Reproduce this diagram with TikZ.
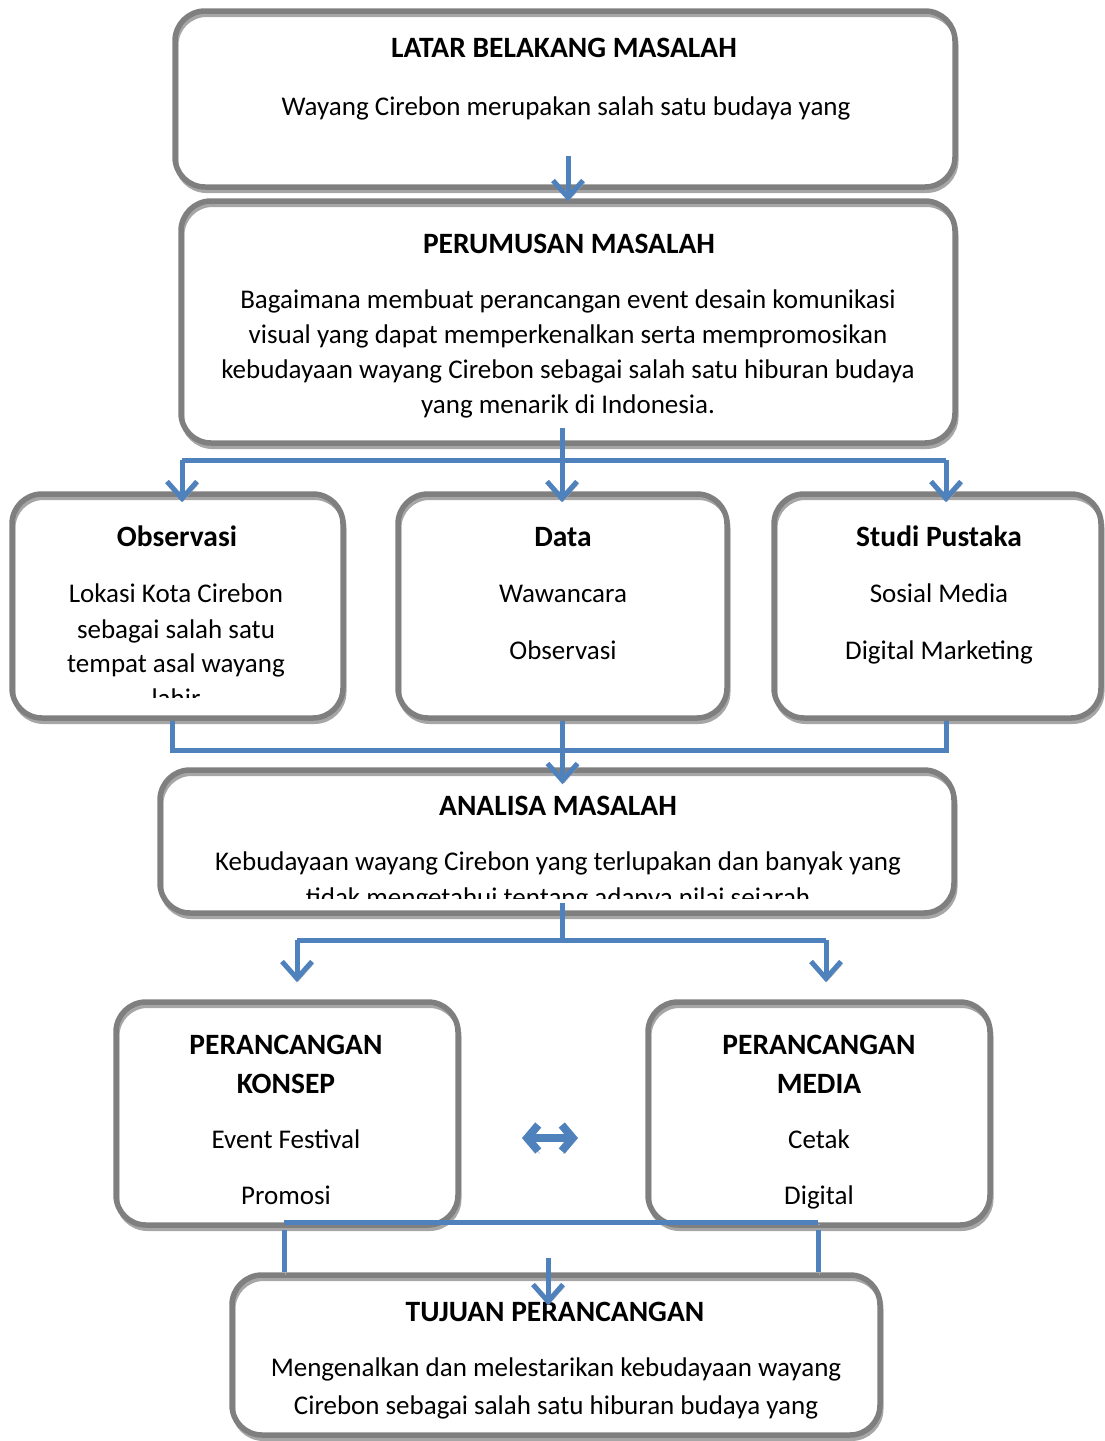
\documentclass[tikz,border=0pt]{standalone}
\usepackage{fontspec}
\setmainfont{Carlito}
\usepackage{tikz}
\usetikzlibrary{arrows.meta}
\definecolor{biru}{HTML}{4F81BD}
\definecolor{abu}{HTML}{7F7F7F}
\definecolor{abumuda}{HTML}{A6A6A6}
\tikzset{
  kotak/.style={draw=abu, line width=5.5pt, rounded corners=30pt, inner sep=0pt,
    preaction={draw=abumuda, line width=4pt, transform canvas={shift={(1.5pt,-4pt)}}}},
  teks/.style={font=\fontsize{27}{32}\selectfont, anchor=base, inner sep=0pt},
  judul/.style={teks, font=\fontsize{29.5}{34}\selectfont\bfseries},
  garis/.style={draw=biru, line width=5pt,
    preaction={draw=abumuda, transform canvas={shift={(1.5pt,-2.5pt)}}}},
  panah/.style={garis, -{Straight Barb[length=17pt,width=30pt]}},
}

\begin{document}
\begin{tikzpicture}[x=1pt, y=-1pt]
        \useasboundingbox (0,0) rectangle (1105,1441);
        % kotak
        \node[kotak, minimum width=780pt, minimum height=176pt] (latar) at (565,99) {};
        \node[kotak, minimum width=774pt, minimum height=242pt] (rumus) at (568,322) {};
        \node[kotak, minimum width=331pt, minimum height=224pt] (obs) at (177.5,606) {};
        \node[kotak, minimum width=329pt, minimum height=224pt] (data) at (562.5,606) {};
        \node[kotak, minimum width=327pt, minimum height=224pt] (studi) at (937.5,606) {};
        \node[kotak, minimum width=794pt, minimum height=143pt] (analisa) at (557,841.5) {};
        \node[kotak, minimum width=342pt, minimum height=223pt] (konsep) at (287,1113.5) {};
        \node[kotak, minimum width=342pt, minimum height=223pt] (media) at (819,1113.5) {};
        \node[kotak, minimum width=648pt, minimum height=160pt] (tujuan) at (556,1355) {};
        % teks
        \node[judul] (latarJ) at (564,57) {LATAR BELAKANG MASALAH};
        \node[teks] (latar1) at (566,115) {Wayang Cirebon merupakan salah satu budaya yang};
        \node[judul] (rumusJ) at (569,253) {PERUMUSAN MASALAH};
        \node[teks] (rumus1) at (568,308) {Bagaimana membuat perancangan event desain komunikasi};
        \node[teks] (rumus2) at (568,343) {visual yang dapat memperkenalkan serta mempromosikan};
        \node[teks] (rumus3) at (568,378) {kebudayaan wayang Cirebon sebagai salah satu hiburan budaya};
        \node[teks] (rumus4) at (568,413) {yang menarik di Indonesia.};
        \node[judul] (obsJ) at (177,546) {Observasi};
        \node[teks] (obs1) at (176,602) {Lokasi Kota Cirebon};
        \node[teks] (obs2) at (176,638) {sebagai salah satu};
        \node[teks] (obs3) at (176,672) {tempat asal wayang};
        \begin{scope}
          \clip (0,0) rectangle (1105,697);
          \node[teks] (obs4) at (176,707) {lahir};
        \end{scope}
        \node[judul] (dataJ) at (563,546) {Data};
        \node[teks] (data1) at (563,602) {Wawancara};
        \node[teks] (data2) at (563,659) {Observasi};
        \node[judul] (studiJ) at (939,546) {Studi Pustaka};
        \node[teks] (studi1) at (939,602) {Sosial Media};
        \node[teks] (studi2) at (939,659) {Digital Marketing};
        \node[judul] (analisaJ) at (558,815) {ANALISA MASALAH};
        \node[teks] (analisa1) at (558,870) {Kebudayaan wayang Cirebon yang terlupakan dan banyak yang};
        \begin{scope}
          \clip (0,0) rectangle (1105,898);
          \node[teks] (analisa2) at (558,906) {tidak mengetahui tentang adanya nilai sejarah};
        \end{scope}
        \node[judul] (konsepJ1) at (286,1054) {PERANCANGAN};
        \node[judul] (konsepJ2) at (286,1093) {KONSEP};
        \node[teks] (konsep1) at (286,1148) {Event Festival};
        \node[teks] (konsep2) at (286,1204) {Promosi};
        \node[judul] (mediaJ1) at (819,1054) {PERANCANGAN};
        \node[judul] (mediaJ2) at (819,1093) {MEDIA};
        \node[teks] (media1) at (819,1148) {Cetak};
        \node[teks] (media2) at (819,1204) {Digital};
        \node[judul] (tujuanJ) at (555,1321) {TUJUAN PERANCANGAN};
        \node[teks] (tujuan1) at (556,1376) {Mengenalkan dan melestarikan kebudayaan wayang};
        \node[teks] (tujuan2) at (556,1414) {Cirebon sebagai salah satu hiburan budaya yang};
        % panah
        \coordinate (p1) at (568,156);
        \draw[panah] (p1) -- ([yshift=-3pt]p1 |- rumus.north);
        \coordinate (p2) at (562,428);
        \coordinate (kiri2) at (182,460);
        \coordinate (kanan2) at (946,460);
        \draw[garis] (kiri2) -- (kanan2);
        \draw[panah] (p2) -- ([yshift=-11pt]p2 |- data.north);
        \draw[panah] (kiri2) -- ([yshift=-11pt]kiri2 |- obs.north);
        \draw[panah] (kanan2) -- ([yshift=-11pt]kanan2 |- studi.north);
        \coordinate (kiri3) at (172,750);
        \coordinate (kanan3) at (946,750);
        \draw[garis] (kiri3 |- obs.south) -- (kiri3) -- (kanan3) -- (kanan3 |- studi.south);
        \draw[panah] (data.south) -- ([yshift=-17pt]data.south |- analisa.north);
        \coordinate (p4) at (562,903);
        \coordinate (kiri4) at (297,940);
        \coordinate (kanan4) at (826,940);
        \draw[garis] (p4) -- (p4 |- kiri4);
        \draw[garis] (kiri4) -- (kanan4);
        \draw[panah] (kiri4) -- ([yshift=17pt]kiri4 |- konsep.north);
        \draw[panah] (kanan4) -- ([yshift=17pt]kanan4 |- media.north);
        \coordinate (dk) at (522,1138);
        \coordinate (dm) at (578,1138);
        \draw[garis, line width=8pt, {Straight Barb[length=11pt,width=26pt]}-{Straight Barb[length=11pt,width=26pt]}] (dk) -- (dm);
        \coordinate (kiri6) at (284,1222);
        \coordinate (kanan6) at (818,1222);
        \draw[garis] (kiri6) -- (kanan6);
        \draw[garis] ([yshift=-8pt]kiri6) -- (kiri6 |- tujuan.north);
        \draw[garis] ([yshift=-8pt]kanan6) -- (kanan6 |- tujuan.north);
        \coordinate (p6) at (548,1258);
        \draw[panah] (p6) -- ([yshift=-33pt]p6 |- tujuan.north);
\end{tikzpicture}
\end{document}
